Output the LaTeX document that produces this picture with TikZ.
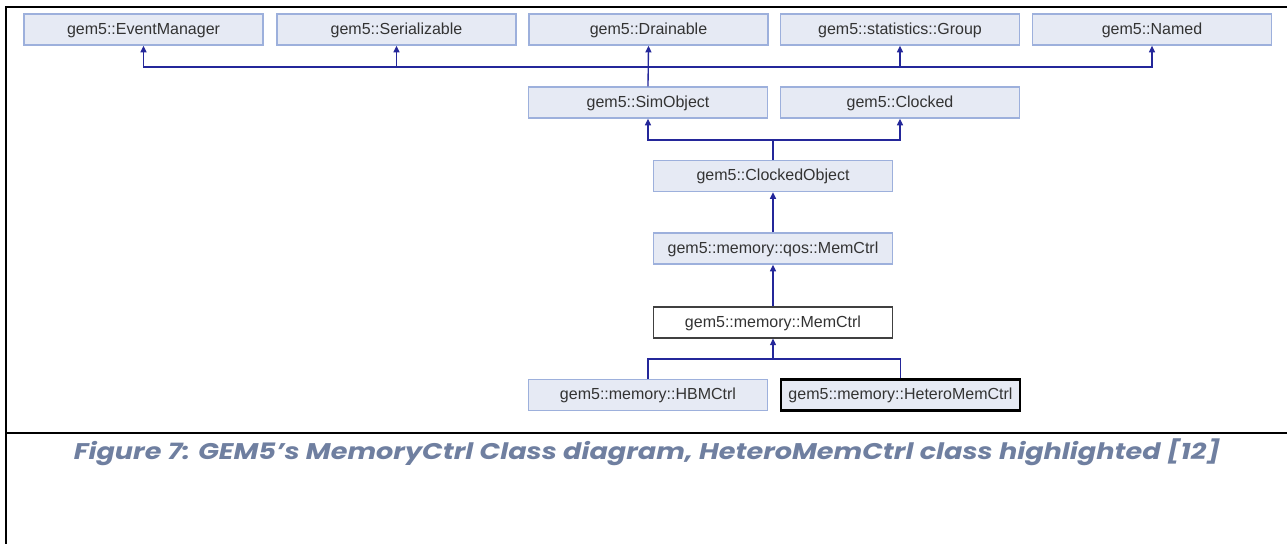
\documentclass[tikz,border=0pt]{standalone}
\usepackage{fontspec}
\setmainfont{Liberation Sans}
\newfontfamily\capfont{Poppins}
\usetikzlibrary{arrows.meta}
\definecolor{boxfill}{HTML}{E6EAF4}
\definecolor{boxline}{HTML}{9DB0DC}
\definecolor{edgecol}{HTML}{24279A}
\definecolor{capcol}{HTML}{6F7FA0}
\tikzset{
  cls/.style={draw=boxline, fill=boxfill, line width=1pt,
    minimum width=179.25pt, minimum height=23.25pt, inner sep=0pt,
    text height=9pt, text depth=2pt,
    font=\fontsize{12}{14}\selectfont, text=black!80},
  cur/.style={cls, draw=black!75, fill=white, line width=0.8pt},
  sel/.style={cls, draw=black, line width=2pt},
  edge/.style={draw=edgecol, line width=1pt},
  inh/.style={edge, -{Triangle[length=5pt,width=4.5pt]}},
  frame/.style={line width=1.6pt, black}
}
\begin{document}
\begin{tikzpicture}[x=0.75pt, y=-0.75pt]
\useasboundingbox (0,0) rectangle (1287,544);
% frame lines
\draw[frame] (6,7) -- (1287,7);
\draw[frame] (6,6) -- (6,544);
\draw[frame] (6,433) -- (1287,433);

% classes
\node[cls] (em)  at (143.5,29.5) {gem5::EventManager};
\node[cls] (ser) at (396.5,29.5) {gem5::Serializable};
\node[cls] (dr)  at (648.5,29.5) {gem5::Drainable};
\node[cls] (grp) at (900,29.5)   {gem5::statistics::Group};
\node[cls] (nam) at (1152,29.5)  {gem5::Named};
\node[cls] (sim) at (648,102.5)  {gem5::SimObject};
\node[cls] (clk) at (900,102.5)  {gem5::Clocked};
\node[cls] (co)  at (773,176)    {gem5::ClockedObject};
\node[cls] (qos) at (773,248.5)  {gem5::memory::qos::MemCtrl};
\node[cur] (mc)  at (773,322.5)  {gem5::memory::MemCtrl};
\node[cls] (hbm) at (648,395)    {gem5::memory::HBMCtrl};
\node[sel] (het) at (900.5,395)  {gem5::memory::HeteroMemCtrl};

% junction points of the inheritance buses
\coordinate (busA) at (648,67);
\coordinate (busB) at (773,140);
\coordinate (busC) at (773,359);

% SimObject bases
\draw[inh] (sim.north) -- (dr.south);
\draw[inh] (busA) -| (em.south);
\draw[inh] (busA) -| (ser.south);
\draw[inh] (busA) -| (grp.south);
\draw[inh] (busA) -| (nam.south);

% ClockedObject bases
\draw[edge] (co.north) -- (busB);
\draw[inh] (busB) -| (sim.south);
\draw[inh] (busB) -| (clk.south);

% single inheritance chain
\draw[inh] (qos.north) -- (co.south);
\draw[inh] (mc.north) -- (qos.south);

% derived classes
\draw[edge] (hbm.north) |- (busC);
\draw[edge] (het.north) |- (busC);
\draw[inh] (busC) -- (mc.south);

% caption
\node[text=capcol, font=\capfont\bfseries\itshape\fontsize{17}{20}\selectfont, anchor=base]
  (cap) at (647,459) {\scalebox{1.195}[1]{Figure 7: GEM5’s MemoryCtrl Class diagram, HeteroMemCtrl class highlighted [12]}};
\end{tikzpicture}
\end{document}
